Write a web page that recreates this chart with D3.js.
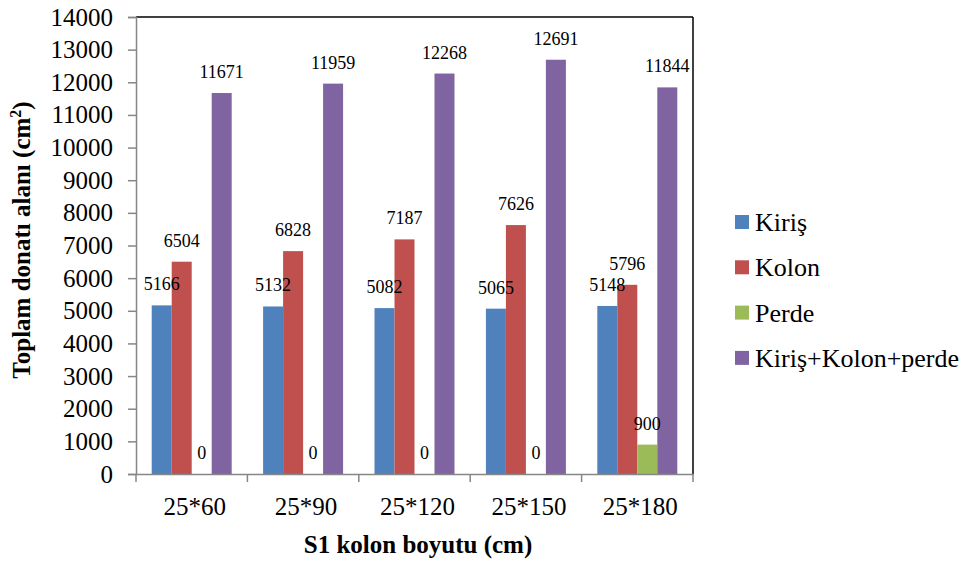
<!DOCTYPE html>
<html>
<head>
<meta charset="utf-8">
<script src="https://cdn.jsdelivr.net/npm/d3@7"></script>
<style>
  html, body { margin: 0; padding: 0; background: #fff; }
  svg { display: block; }
</style>
</head>
<body>
<svg id="chart" width="974" height="561"></svg>
<script>
const categories = ["25*60", "25*90", "25*120", "25*150", "25*180"];
const seriesNames = ["Kiriş", "Kolon", "Perde", "Kiriş+Kolon+perde"];
const kiris  = [5166, 5132, 5082, 5065, 5148];
const kolon  = [6504, 6828, 7187, 7626, 5796];
const perde  = [0, 0, 0, 0, 900];
const toplam = [11671, 11959, 12268, 12691, 11844];
const yTicks = [0, 1000, 2000, 3000, 4000, 5000, 6000, 7000, 8000, 9000, 10000, 11000, 12000, 13000, 14000];
const colors = ["#4F81BD", "#C0504D", "#9BBB59", "#8064A2"];

const seriesValues = [kiris, kolon, perde, toplam];

const svg = d3.select("#chart");
const pLeft = 136, pRight = 693, pTop = 17, pBottom = 474;
const axisGray = "#868686";

const x0 = d3.scaleBand().domain(categories).range([pLeft, pRight]).padding(0);
const gw = x0.bandwidth();
const x1 = d3.scaleBand().domain(seriesNames).range([gw * 0.141, gw * 0.859]).padding(0);
const y = d3.scaleLinear().domain([0, 14000]).range([pBottom, pTop]);

// bars
const groups = svg.append("g").selectAll("g").data(categories).join("g")
  .attr("transform", d => `translate(${x0(d)},0)`);

seriesNames.forEach((s, si) => {
  groups.append("rect")
    .attr("x", () => x1(s))
    .attr("width", x1.bandwidth())
    .attr("y", (d, i) => y(seriesValues[si][i]))
    .attr("height", (d, i) => y(0) - y(seriesValues[si][i]))
    .attr("fill", colors[si]);
});

// data labels
seriesNames.forEach((s, si) => {
  groups.append("text")
    .attr("x", () => x1(s) + x1.bandwidth() / 2)
    .attr("y", (d, i) => y(seriesValues[si][i]) - 15)
    .attr("text-anchor", "middle")
    .attr("font-size", 18)
    .attr("fill", "#000")
    .text((d, i) => seriesValues[si][i]);
});

// top and right border (black)
svg.append("line").attr("x1", pLeft).attr("x2", pRight).attr("y1", pTop).attr("y2", pTop)
  .attr("stroke", "#000").attr("stroke-width", 1.5);
svg.append("line").attr("x1", pRight).attr("x2", pRight).attr("y1", pTop).attr("y2", pBottom)
  .attr("stroke", "#000").attr("stroke-width", 1.5);

// y axis
const yAxis = d3.axisLeft(y).tickValues(yTicks).tickSize(8).tickPadding(15).tickFormat(d3.format("d"));
const gy = svg.append("g").attr("transform", `translate(${pLeft},0)`).call(yAxis);
gy.select(".domain").attr("stroke", axisGray).attr("stroke-width", 1.5);
gy.selectAll(".tick line").attr("stroke", axisGray).attr("stroke-width", 1.5);
gy.selectAll(".tick text").attr("font-size", 25).attr("fill", "#000");

// x axis
const xAxis = d3.axisBottom(x0).tickSize(0).tickPadding(0).tickSizeOuter(0);
const gx = svg.append("g").attr("transform", `translate(0,${pBottom})`).call(xAxis);
gx.select(".domain").attr("stroke", axisGray).attr("stroke-width", 1.5);
gx.selectAll(".tick text").attr("font-size", 25)
  .attr("fill", "#000").attr("dy", null).attr("y", 41).attr("dx", 3);
// boundary ticks
const boundaries = categories.map(c => x0(c)).concat([x0(categories[categories.length - 1]) + gw]);
svg.append("g").selectAll("line").data(boundaries).join("line")
  .attr("x1", d => d).attr("x2", d => d).attr("y1", pBottom).attr("y2", pBottom + 8)
  .attr("stroke", axisGray).attr("stroke-width", 1.5);

// axis titles
svg.append("text").attr("x", 418).attr("y", 553).attr("text-anchor", "middle")
  .attr("font-size", 25).attr("font-weight", "bold").text("S1 kolon boyutu (cm)");
const yt = svg.append("text").attr("transform", "translate(30,240) rotate(-90)")
  .attr("text-anchor", "middle").attr("font-size", 25).attr("font-weight", "bold");
yt.append("tspan").text("Toplam donatı alanı (cm");
yt.append("tspan").attr("dy", -9).attr("font-size", 16).text("2");
yt.append("tspan").attr("dy", 9).text(")");

// legend
const legend = svg.append("g").selectAll("g").data(seriesNames).join("g")
  .attr("transform", (d, i) => `translate(735,${222 + i * 45.3})`);
legend.append("rect").attr("x", 0).attr("y", -7).attr("width", 14).attr("height", 14)
  .attr("fill", (d, i) => colors[i]);
legend.append("text").attr("x", 20).attr("y", 9).attr("font-size", 26).text(d => d);

// apply serif font inline on every text
svg.selectAll("text").style("font-family", '"Liberation Serif"');
</script>
</body>
</html>
